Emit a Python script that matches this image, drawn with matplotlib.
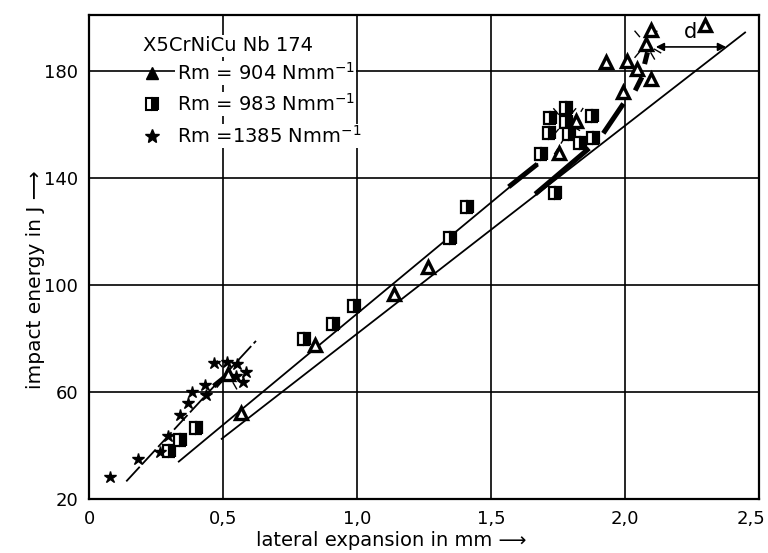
import numpy as np
import matplotlib
matplotlib.use("Agg")
import matplotlib.pyplot as plt
import matplotlib.transforms as mtransforms

# Rm = 904 N/mm^2 (triangles)
tri_x = [0.519, 0.566, 0.843, 1.139, 1.266, 1.752, 1.816, 1.928, 1.991, 2.006,
         2.045, 2.078, 2.097, 2.098, 2.298]
tri_y = [66.7, 52.0, 77.7, 96.6, 106.7, 149.2, 161.2, 183.5, 172.1, 183.9,
         180.8, 190.0, 176.9, 195.4, 197.2]

# Rm = 983 N/mm^2 (half filled squares)
sq_x = [0.299, 0.341, 0.400, 0.801, 0.910, 0.990, 1.347, 1.411, 1.685, 1.718,
        1.719, 1.740, 1.779, 1.780, 1.791, 1.833, 1.875, 1.880]
sq_y = [37.8, 42.1, 46.4, 79.7, 85.4, 92.1, 117.7, 129.2, 149.0, 157.0,
        162.6, 134.5, 166.2, 161.0, 156.5, 153.1, 163.0, 154.9]

# Rm = 1385 N/mm^2 (stars)
star_x = [0.080, 0.184, 0.264, 0.296, 0.338, 0.370, 0.386, 0.434, 0.437, 0.466,
          0.516, 0.553, 0.550, 0.584, 0.575]
star_y = [28.2, 34.9, 37.6, 43.7, 51.5, 55.8, 59.9, 62.8, 58.8, 71.0,
          71.1, 70.4, 66.1, 67.3, 63.6]

# fitted lines (start, end)
line_star_x = [0.139, 0.623]
line_star_y = [26.6, 79.1]
line_upper_x = [0.335, 1.673]
line_upper_y = [34.0, 145.2]
line_lower_x = [0.495, 2.448]
line_lower_y = [42.5, 194.4]

# thick dashed pieces marking the shift of the scatter band
thick_segments = [
    ([0.465, 0.521], [62.2, 66.7]),
    ([1.566, 1.673], [136.7, 145.2]),
    ([1.665, 1.866], [134.0, 151.1]),
    ([1.919, 1.994], [156.7, 167.8]),
    ([2.038, 2.063], [172.7, 177.7]),
    ([2.073, 2.084], [182.6, 187.0]),
]
thin_dash_x = [1.736, 1.844]
thin_dash_y = [148.9, 166.2]

# centres of the small radiating strokes
burst_x = [0.519, 1.775, 2.078]
burst_y = [66.7, 161.0, 190.0]

# "d" distance arrow
d_x = [2.115, 2.377]
d_y = 189.0

xticks = [0, 0.5, 1.0, 1.5, 2.0, 2.5]
xtick_labels = ["0", "0,5", "1,0", "1,5", "2,0", "2,5"]
yticks = [20, 60, 100, 140, 180]

fig = plt.figure(figsize=(7.68, 5.53), dpi=100)
ax = fig.add_axes([0.1159, 0.0976, 0.8724, 0.8756])
ax.set_xlim(0, 2.5)
ax.set_ylim(20, 201)

ax.set_xticks(xticks)
ax.set_xticklabels(xtick_labels)
ax.set_yticks(yticks)
ax.tick_params(length=0, labelsize=13, pad=8)
# last x label sits close to the figure edge
last = ax.get_xticklabels()[-1]
last.set_transform(last.get_transform() +
                   mtransforms.ScaledTranslation(-6 / 72, 0, fig.dpi_scale_trans))
for s in ax.spines.values():
    s.set_linewidth(1.6)
ax.grid(True, color="black", linewidth=1.2)
ax.set_axisbelow(True)

lw = 1.3
ax.plot(line_lower_x, line_lower_y, color="black", lw=lw, zorder=3)
ax.plot(line_upper_x, line_upper_y, color="black", lw=lw, zorder=3)
ax.plot(line_star_x, line_star_y, color="black", lw=lw,
        ls=(0, (11, 2)), zorder=3)
for sx, sy in thick_segments:
    ax.plot(sx, sy, color="black", lw=3.6, solid_capstyle="butt", zorder=3)
ax.plot(thin_dash_x, thin_dash_y, color="black", lw=1.0,
        ls=(0, (5, 4)), zorder=3)

# radiating strokes (pixel lengths converted to data units)
px_x = 268.0
px_y = 2.675
for cx, cy in zip(burst_x, burst_y):
    for ang in [50, 130, 230, 300, 330]:
        a = np.deg2rad(ang)
        r1, r2 = 10, 17
        ax.plot([cx + r1 * np.cos(a) / px_x, cx + r2 * np.cos(a) / px_x],
                [cy + r1 * np.sin(a) / px_y, cy + r2 * np.sin(a) / px_y],
                color="black", lw=1.0, zorder=3)

ax.plot(tri_x, tri_y, ls="none", marker="^", ms=8, mfc="white",
        mec="black", mew=2.4, zorder=4)
ax.plot(sq_x, sq_y, ls="none", marker="s", ms=8, fillstyle="right",
        mfc="black", mfcalt="white", mec="black", mew=1.6, zorder=4)
ax.plot(star_x, star_y, ls="none", marker="*", ms=9, color="black", zorder=4)

ax.annotate("", xy=(d_x[0], d_y), xytext=(d_x[1], d_y),
            arrowprops=dict(arrowstyle="<|-|>", color="black", lw=1.2,
                            mutation_scale=12, shrinkA=0, shrinkB=0),
            zorder=5)
ax.text((d_x[0] + d_x[1]) / 2, d_y + 2, "d", fontsize=15,
        ha="center", va="bottom")

# legend block
bb = dict(facecolor="white", edgecolor="none", pad=1)
ax.text(0.081, 0.936, "X5CrNiCu Nb 174", transform=ax.transAxes,
        fontsize=14, va="center", ha="left", bbox=bb, zorder=6)
rows = [("^", "Rm = 904 Nmm$^{-1}$"),
        ("s", "Rm = 983 Nmm$^{-1}$"),
        ("*", "Rm =1385 Nmm$^{-1}$")]
row_y = [0.880, 0.816, 0.750]
for (mk, label), ry in zip(rows, row_y):
    ax.text(0.131, ry, label, transform=ax.transAxes, fontsize=14,
            va="center", ha="left", bbox=bb, zorder=6)
    kw = dict(transform=ax.transAxes, clip_on=False, zorder=7, ls="none")
    if mk == "s":
        ax.plot([0.094], [ry], marker="s", ms=8, fillstyle="right",
                mfc="black", mfcalt="white", mec="black", mew=1.5, **kw)
    elif mk == "^":
        ax.plot([0.094], [ry], marker="^", ms=8, color="black", **kw)
    else:
        ax.plot([0.094], [ry], marker="*", ms=10, color="black", **kw)

fig.text(0.510, 0.022, "lateral expansion in mm \u27f6", fontsize=14,
         ha="center", va="center")
fig.text(0.046, 0.494, "impact energy in J \u27f6", fontsize=14.5,
         ha="center", va="center", rotation=90)

fig.savefig("out.png", dpi=100)
